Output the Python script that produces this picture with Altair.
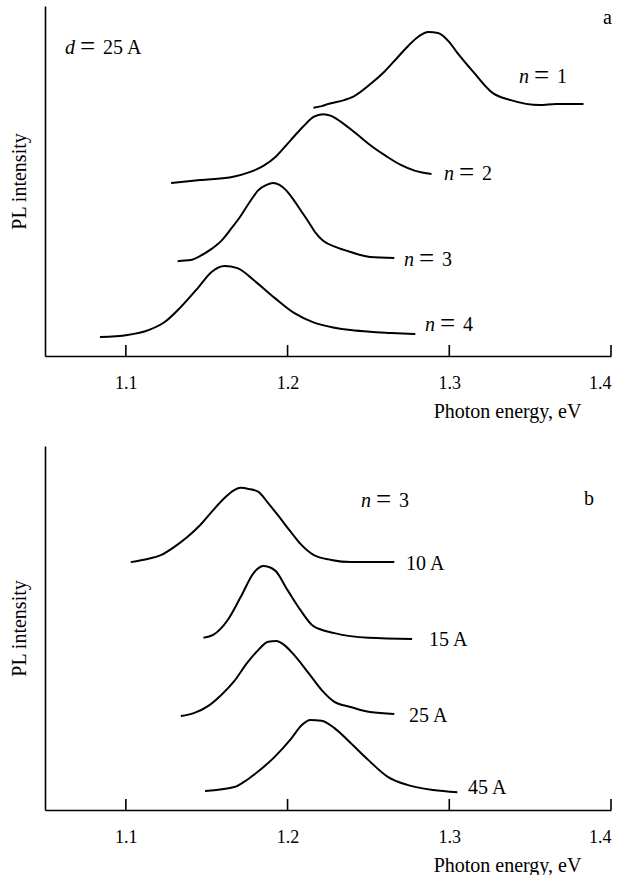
import altair as alt
import pandas as pd

# ---------------- data (photon energy in eV, PL intensity in arbitrary units) -------------
# Panel a: d = 25 A, n = 1..4
a_n1_x = [1.216, 1.221, 1.225, 1.235, 1.241, 1.252, 1.260, 1.268, 1.275, 1.281, 1.287, 1.293,
          1.300, 1.305, 1.315, 1.327, 1.338, 1.356, 1.366, 1.383]
a_n1_y = [70.9, 71.4, 72.0, 73.1, 74.2, 78.0, 81.3, 85.3, 88.8, 91.3, 92.6, 92.3,
          89.7, 86.6, 81.1, 75.1, 73.1, 71.7, 72.0, 72.0]

a_n2_x = [1.128, 1.146, 1.165, 1.177, 1.185, 1.193, 1.202, 1.210, 1.216, 1.222, 1.227, 1.233,
          1.242, 1.251, 1.261, 1.270, 1.279, 1.289]
a_n2_y = [49.4, 50.3, 51.1, 52.6, 54.3, 57.1, 61.7, 65.7, 68.3, 69.1, 68.6, 66.9,
          63.7, 60.3, 57.1, 54.6, 52.9, 52.0]

a_n3_x = [1.132, 1.140, 1.146, 1.153, 1.159, 1.165, 1.171, 1.177, 1.182, 1.187, 1.191, 1.195,
          1.199, 1.203, 1.208, 1.213, 1.217, 1.222, 1.230, 1.239, 1.251, 1.266]
a_n3_y = [27.1, 27.4, 28.6, 30.6, 32.9, 36.3, 40.0, 44.3, 47.4, 48.9, 49.4, 48.9,
          47.4, 45.1, 41.7, 38.3, 35.4, 32.9, 31.1, 29.7, 28.3, 28.0]

a_n4_x = [1.084, 1.101, 1.114, 1.124, 1.134, 1.145, 1.153, 1.161, 1.169, 1.179, 1.192, 1.204,
          1.216, 1.229, 1.239, 1.251, 1.264, 1.279]
a_n4_y = [5.4, 6.0, 7.4, 9.7, 14.0, 19.7, 24.0, 25.7, 25.1, 21.7, 16.6, 12.3,
          9.6, 8.1, 7.4, 6.9, 6.6, 6.3]

# Panel b: n = 3, d = 10, 15, 25, 45 A
b_10_x = [1.103, 1.114, 1.122, 1.130, 1.138, 1.146, 1.154, 1.161, 1.167, 1.171, 1.176, 1.182,
          1.188, 1.194, 1.202, 1.208, 1.216, 1.227, 1.239, 1.266]
b_10_y = [68.1, 69.0, 70.1, 72.3, 75.0, 78.3, 82.4, 85.7, 87.9, 88.5, 88.2, 87.4,
          84.3, 81.0, 76.4, 73.1, 70.1, 68.7, 68.1, 68.1]

b_15_x = [1.148, 1.154, 1.163, 1.171, 1.179, 1.185, 1.192, 1.200, 1.208, 1.216, 1.229, 1.250, 1.277]
b_15_y = [47.3, 48.1, 52.2, 58.5, 65.1, 67.0, 65.9, 60.4, 54.9, 50.5, 48.6, 47.3, 47.0]

b_25_x = [1.134, 1.142, 1.151, 1.159, 1.167, 1.175, 1.182, 1.188, 1.193, 1.198, 1.204, 1.213,
          1.221, 1.229, 1.239, 1.251, 1.266]
b_25_y = [25.8, 26.6, 28.6, 31.6, 35.4, 40.4, 44.0, 46.2, 46.4, 45.3, 42.6, 37.6,
          33.0, 29.7, 28.3, 26.9, 26.4]

b_45_x = [1.149, 1.167, 1.173, 1.179, 1.192, 1.202, 1.209, 1.214, 1.221, 1.229, 1.239, 1.250,
          1.262, 1.274, 1.290, 1.305]
b_45_y = [5.2, 6.3, 7.7, 9.6, 14.6, 19.5, 23.4, 24.7, 24.5, 22.5, 18.4, 13.7,
          9.1, 6.9, 5.5, 4.9]

tick_values = [1.1, 1.2, 1.3, 1.4]
x_domain = [1.05, 1.4]
y_domain = [0, 100]

# labels: (variable, value text, energy, intensity)
a_eq_labels = [("d", "25 A", 1.0624, 86.3), ("n", "1", 1.3431, 78.0), ("n", "2", 1.2968, 50.3),
               ("n", "3", 1.2720, 25.7), ("n", "4", 1.2850, 7.1)]
a_plain_labels = [("a", 1.3951, 94.9)]
b_eq_labels = [("n", "3", 1.2454, 83.2)]
b_plain_labels = [("b", 1.3833, 83.8), ("10 A", 1.2733, 65.9), ("15 A", 1.2875, 45.1),
                  ("25 A", 1.2751, 24.2), ("45 A", 1.3116, 4.4)]

FONT = "'Liberation Serif', 'Times New Roman', serif"
W = 566


def curves(pairs):
    rows = []
    for name, xs, ys in pairs:
        for i, (x, y) in enumerate(zip(xs, ys)):
            rows.append({"series": name, "E": x, "I": y, "o": i})
    return pd.DataFrame(rows)


def panel(curve_df, eq_labels, plain_labels, H):
    xs = alt.Scale(domain=x_domain, nice=False, zero=False)
    ys = alt.Scale(domain=y_domain, nice=False, zero=False)
    xaxis = alt.Axis(values=tick_values, format=".1f", ticks=False, tickSize=0, grid=False,
                     labelPadding=18, labelFontSize=18, labelFont=FONT, labelColor="black",
                     domainColor="black", domainWidth=1.6,
                     title="Photon energy, eV", titleFont=FONT, titleFontSize=20,
                     titleFontWeight="normal", titleColor="black",
                     titleX=462, titleY=61, titleAlign="center", titleBaseline="alphabetic")
    yaxis = alt.Axis(labels=False, ticks=False, grid=False, domainColor="black", domainWidth=1.6,
                     title="PL intensity", titleFont=FONT, titleFontSize=20,
                     titleFontWeight="normal", titleColor="black", titlePadding=16)
    lines = alt.Chart(curve_df).mark_line(color="black", strokeWidth=2, strokeJoin="round",
                                          interpolate="monotone").encode(
        x=alt.X("E:Q", scale=xs, axis=xaxis),
        y=alt.Y("I:Q", scale=ys, axis=yaxis),
        detail="series:N",
        order="o:Q",
    )
    ticks = alt.Chart(pd.DataFrame({"t": tick_values})).mark_rule(color="black", strokeWidth=1.6).encode(
        x=alt.X("t:Q", scale=xs),
        y=alt.value(H - 11),
        y2=alt.value(H),
    )
    eq_df = pd.DataFrame([{"var": v, "val": t, "E": x, "I": y} for v, t, x, y in eq_labels])
    plain_df = pd.DataFrame([{"txt": t, "E": x, "I": y} for t, x, y in plain_labels])
    base_eq = alt.Chart(eq_df).encode(x=alt.X("E:Q", scale=xs), y=alt.Y("I:Q", scale=ys))
    var_t = base_eq.mark_text(font=FONT, fontSize=20, fontStyle="italic", align="left",
                              baseline="alphabetic", color="black").encode(text="var:N")
    eq_t = base_eq.mark_text(font=FONT, fontSize=27, align="left", baseline="alphabetic",
                             dx=15, dy=1, color="black").encode(text=alt.value("="))
    val_t = base_eq.mark_text(font=FONT, fontSize=20, align="left", baseline="alphabetic",
                              dx=38, color="black").encode(text="val:N")
    plain_t = alt.Chart(plain_df).mark_text(font=FONT, fontSize=20, align="left",
                                            baseline="alphabetic", color="black").encode(
        x=alt.X("E:Q", scale=xs), y=alt.Y("I:Q", scale=ys), text="txt:N")
    return alt.layer(lines, ticks, var_t, eq_t, val_t, plain_t).properties(width=W, height=H)


df_a = curves([("n=1", a_n1_x, a_n1_y), ("n=2", a_n2_x, a_n2_y),
               ("n=3", a_n3_x, a_n3_y), ("n=4", a_n4_x, a_n4_y)])
df_b = curves([("10", b_10_x, b_10_y), ("15", b_15_x, b_15_y),
               ("25", b_25_x, b_25_y), ("45", b_45_x, b_45_y)])

chart = alt.vconcat(
    panel(df_a, a_eq_labels, a_plain_labels, 350),
    panel(df_b, b_eq_labels, b_plain_labels, 364),
    spacing=25,
).properties(padding={"left": 9, "top": 6, "right": 5, "bottom": 0}).configure_view(stroke=None)

chart.save("out.html", embed_options={"renderer": "svg", "actions": False})
